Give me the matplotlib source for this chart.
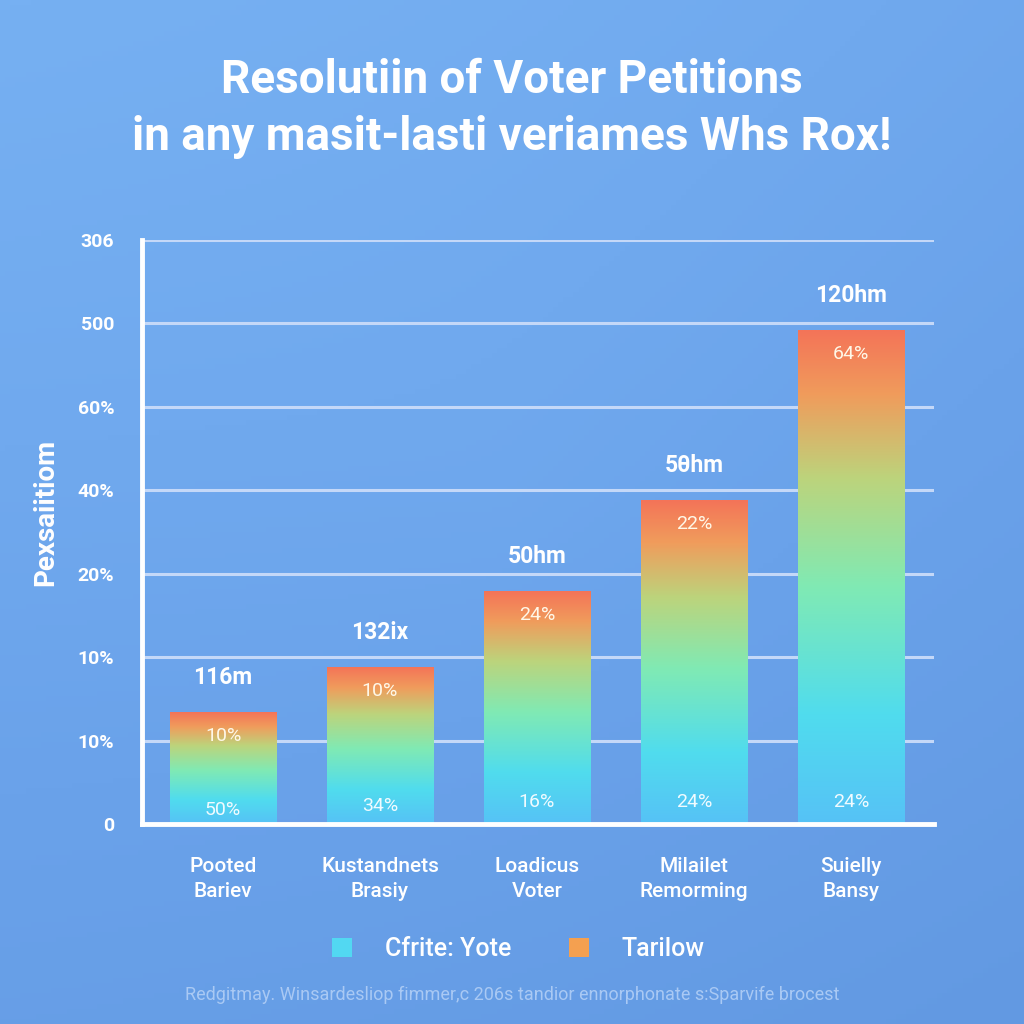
import numpy as np
import matplotlib
matplotlib.use('Agg')
import matplotlib.pyplot as plt
from matplotlib.colors import LinearSegmentedColormap
from matplotlib.patches import Patch

plt.rcParams['font.family'] = ['Roboto', 'DejaVu Sans']

# Data
categories = ['Pooted\nBariev', 'Kustandnets\nBrasiy', 'Loadicus\nVoter',
              'Milailet\nRemorming', 'Suielly\nBansy']
heights = [1.34, 1.88, 2.79, 3.88, 5.92]
top_labels = ['116m', '132ix', '50hm', '5θhm', '120hm']
upper_pct = ['10%', '10%', '24%', '22%', '64%']
lower_pct = ['50%', '34%', '16%', '24%', '24%']
ytick_labels = ['0', '10%', '10%', '20%', '40%', '60%', '500', '306']
legend_labels = ['Cfrite: Yote', 'Tarilow']
legend_colors = ['#52d8f2', '#f4a050']

title = 'Resolutiin of Voter Petitions\nin any masit-lasti veriames Whs Rox!'
ylabel = 'Pexsaiitiom'
footer = 'Redgitmay. Winsardesliop fimmer,c 206s tandior ennorphonate s:Sparvife brocest'

bg = '#6ea8ee'
fig = plt.figure(figsize=(10.24, 10.24), dpi=100, facecolor=bg)

# soft background gradient
bgax = fig.add_axes([0, 0, 1, 1], zorder=-10)
yy, xx = np.mgrid[0:1:200j, 0:1:200j]
shade = 0.55 * yy + 0.25 * xx + 0.2 * np.hypot(xx - 0.5, yy - 0.5)
bgcmap = LinearSegmentedColormap.from_list('bg', ['#76b0f2', '#6aa2ea', '#6299e2'])
bgax.imshow(shade, cmap=bgcmap, extent=[0, 1, 0, 1], aspect='auto', origin='upper')
bgax.axis('off')

ax = fig.add_axes([142 / 1024, 200 / 1024, 792 / 1024, 584 / 1024])
ax.set_facecolor('none')

x = np.arange(len(categories))
bars = ax.bar(x, heights, width=0.68, color='none', edgecolor='none', zorder=3)

cmap = LinearSegmentedColormap.from_list(
    'bar', [(0.0, '#56c2f6'), (0.22, '#50dcee'), (0.48, '#80eab4'),
            (0.7, '#bcd47c'), (0.87, '#f09c5c'), (1.0, '#f47458')])
grad = np.linspace(0, 1, 256).reshape(-1, 1)
for b in bars:
    x0, w, h = b.get_x(), b.get_width(), b.get_height()
    im = ax.imshow(grad, cmap=cmap, origin='lower', aspect='auto',
                   extent=[x0, x0 + w, 0, h], zorder=3)
    im.set_clip_path(b)

for i, b in enumerate(bars):
    cx = b.get_x() + b.get_width() / 2
    h = b.get_height()
    ax.text(cx, h + 0.42, top_labels[i], ha='center', va='center',
            color='white', fontsize=16.5, fontweight='bold', zorder=5)
    ax.text(cx, h - 0.29, upper_pct[i], ha='center', va='center',
            color='#fff8e8', fontsize=14, zorder=5)
    ax.text(cx, 0.17 + 0.045 * min(i, 2), lower_pct[i], ha='center', va='center',
            color='#f0fbff', fontsize=14, zorder=5)

ax.set_xlim(-0.516, 4.529)
ax.set_ylim(0, 7)
ax.set_yticks(range(len(ytick_labels)))
ax.set_yticklabels(ytick_labels, color='white', fontsize=14, fontweight='bold')
ax.set_xticks(x)
ax.set_xticklabels(categories, color='white', fontsize=15, fontweight='medium',
                   linespacing=1.4)
ax.tick_params(axis='y', length=0, pad=20)
ax.tick_params(axis='x', length=0, pad=24)
ax.yaxis.grid(True, color='#c4d8f8', linewidth=2.2, zorder=1)
ax.set_axisbelow(True)
for s in ['top', 'right']:
    ax.spines[s].set_visible(False)
for s in ['left', 'bottom']:
    ax.spines[s].set_color('white')
    ax.spines[s].set_linewidth(3.5)
    ax.spines[s].set_zorder(6)
ax.set_ylabel(ylabel, color='white', fontsize=20, fontweight='bold')
ax.yaxis.set_label_coords(-0.104, 0.534)

fig.text(0.5, 0.894, title, ha='center', va='center', color='white',
         fontsize=33, fontweight='bold', linespacing=1.38)

handles = [Patch(facecolor=c, edgecolor='none') for c in legend_colors]
fig.legend(handles, legend_labels, loc='center', bbox_to_anchor=(0.506, 0.073),
           ncol=2, frameon=False, labelcolor='white',
           prop={'weight': 'medium', 'size': 18},
           handlelength=0.8, handleheight=0.8, columnspacing=2.3, handletextpad=1.3)

fig.text(0.5, 0.028, footer, ha='center', va='center', color='#a9c9f4', fontsize=13)

fig.savefig('out.png', dpi=100, facecolor=bg)
